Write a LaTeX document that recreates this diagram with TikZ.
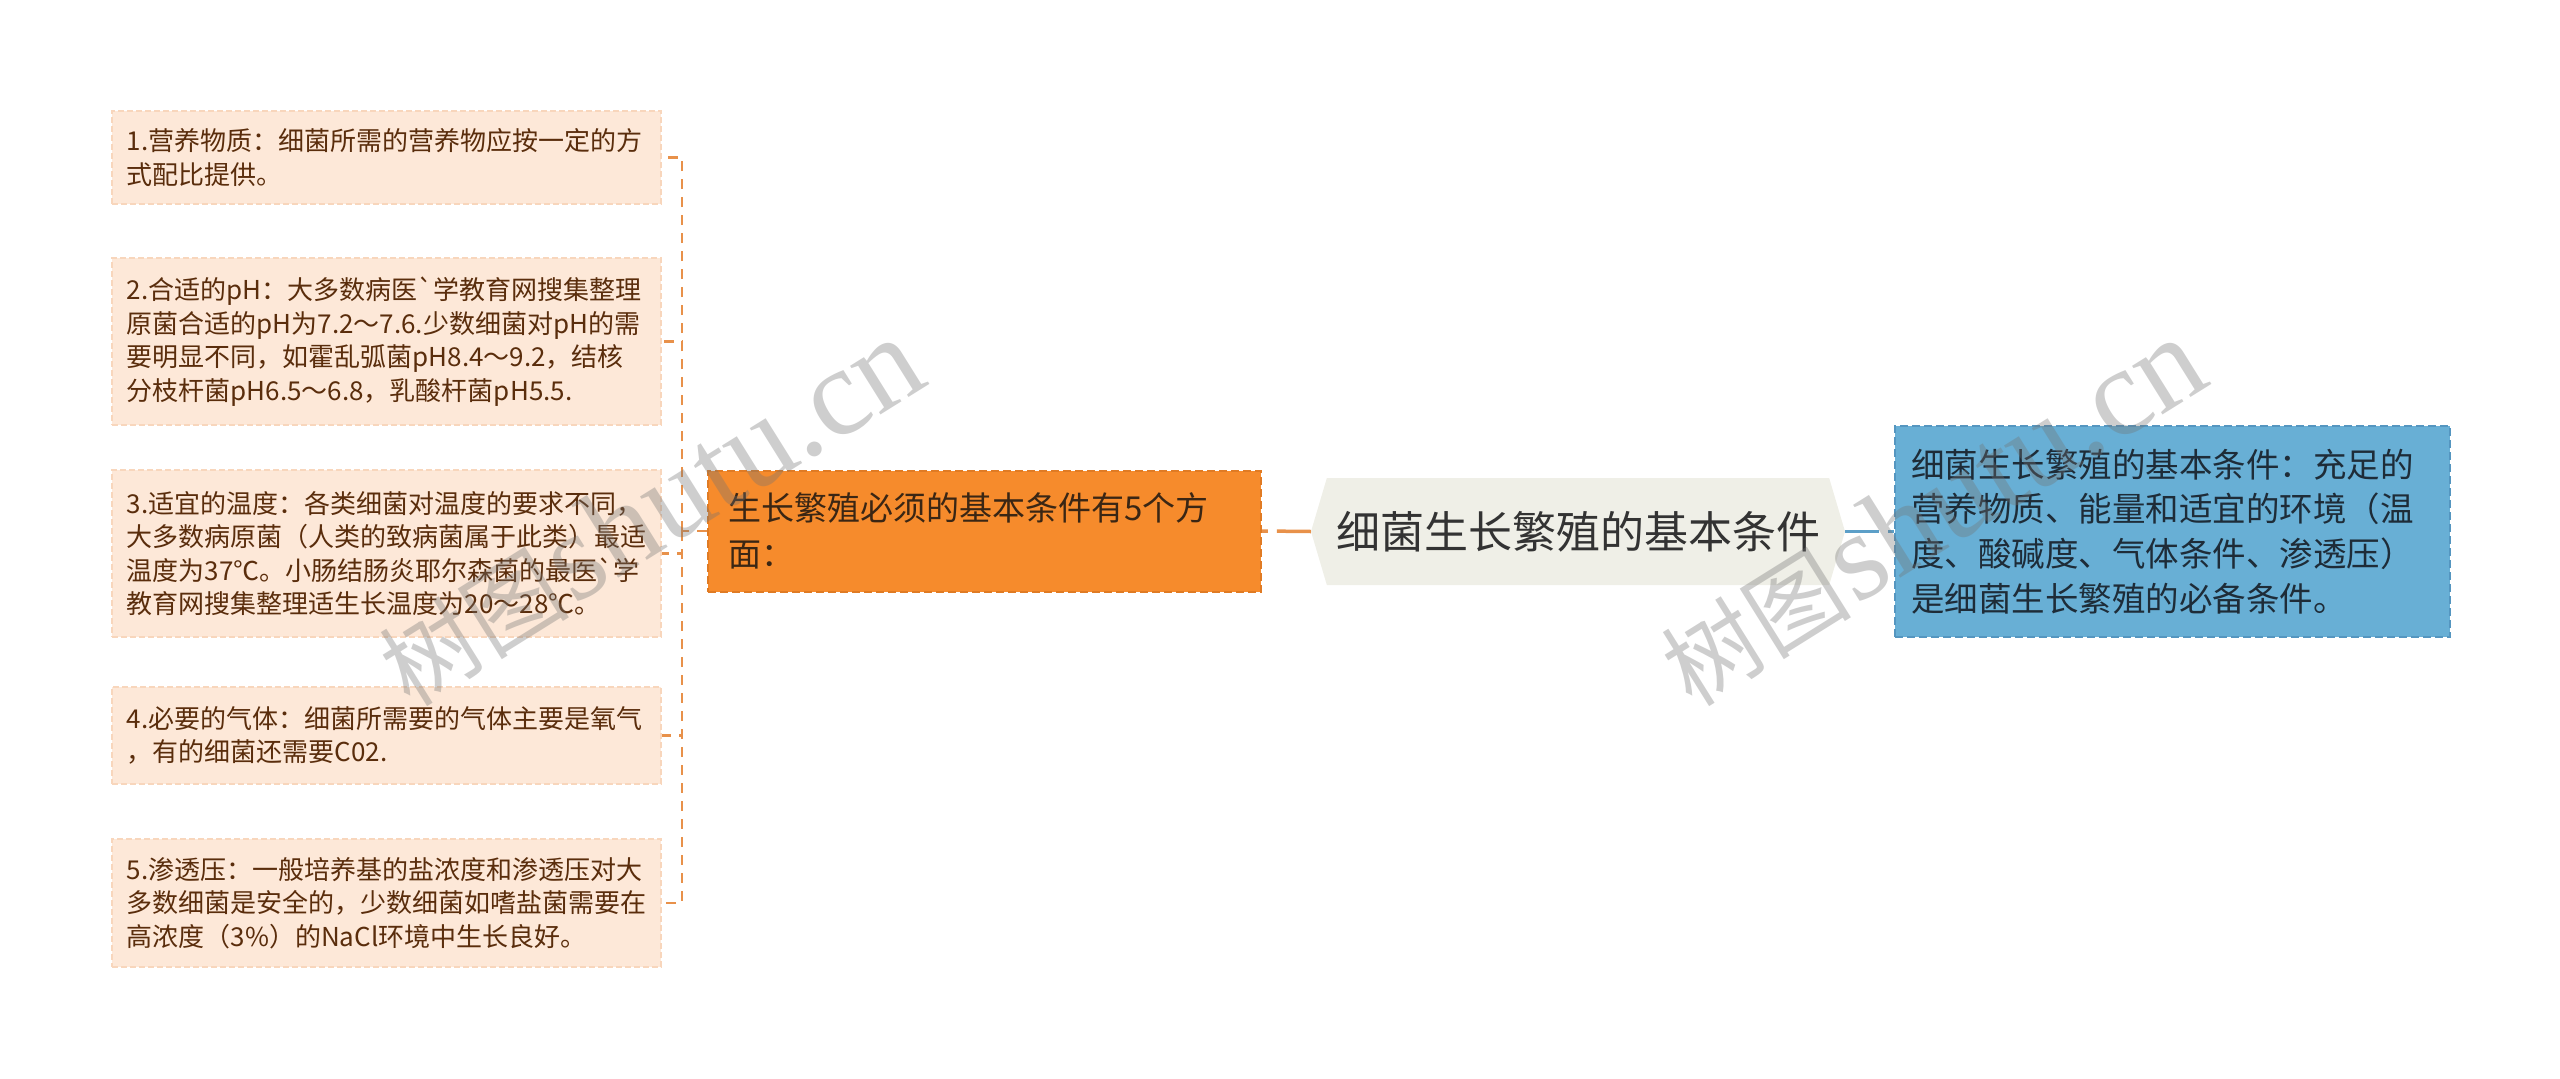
\documentclass[tikz,border=0pt]{standalone}
\usepackage{fontspec}
\newfontfamily\cjk{Noto Sans CJK SC}
\newfontfamily\wmserif{Liberation Serif}
\usetikzlibrary{shapes.symbols}
\definecolor{leaffill}{HTML}{FDE8D8}
\definecolor{leafline}{HTML}{F8D6BC}
\definecolor{leaftext}{HTML}{5A2D0C}
\definecolor{linkorange}{HTML}{E8914A}
\definecolor{midfill}{HTML}{F68B2C}
\definecolor{midline}{HTML}{E07B24}
\definecolor{midtext}{HTML}{3A2614}
\definecolor{rootfill}{HTML}{EFEFE7}
\definecolor{roottext}{HTML}{333333}
\definecolor{bluefill}{HTML}{68AFD5}
\definecolor{blueline}{HTML}{5596C0}
\definecolor{bluetext}{HTML}{1E2C38}
\definecolor{linkblue}{HTML}{5C9FC8}
\tikzset{
  leaf/.style={rectangle, fill=leaffill, draw=leafline, dash pattern=on 6pt off 3pt, line width=1.5pt,
    text=leaftext, font=\cjk\fontsize{26}{33.5}\selectfont,
    text width=519pt, inner xsep=15pt, inner ysep=0pt, align=left, anchor=west},
  midbox/.style={rectangle, fill=midfill, draw=midline, dash pattern=on 8pt off 4pt, line width=2pt,
    text=midtext, font=\cjk\fontsize{33}{46}\selectfont,
    text width=513pt, inner xsep=20pt, inner ysep=0pt, align=left, anchor=west,
    minimum height=121pt},
  rootbox/.style={signal, signal to=west and east, signal pointer angle=147,
    fill=rootfill, text=roottext, font=\cjk\fontsize{44}{50}\selectfont,
    minimum width=534pt, minimum height=107pt, inner sep=0pt},
  bluebox/.style={rectangle, fill=bluefill, draw=blueline, dash pattern=on 8pt off 4pt, line width=2pt,
    text=bluetext, font=\cjk\fontsize{33.5}{44.7}\selectfont,
    text width=523pt, inner xsep=16pt, inner ysep=0pt, align=left, anchor=west,
    minimum height=211pt},
  leaflink/.style={draw=linkorange, line width=2.5pt, dash pattern=on 10pt off 8pt},
  midlink/.style={draw=linkorange, line width=3.5pt, dash pattern=on 34pt off 9pt},
  bluelink/.style={draw=linkblue, line width=3.5pt, dash pattern=on 34pt off 9pt},
  wm/.style={text=black!55, text opacity=0.35, inner sep=0pt}
}
\begin{document}
\begin{tikzpicture}[x=1pt,y=-1pt]
  \useasboundingbox (0,0) rectangle (2560,1079);
  % leaves
  \node[leaf, minimum height=93pt] (n1) at (111,157.5)
    {1.营养物质：细菌所需的营养物应按一定的方\\式配比提供。};
  \node[leaf, minimum height=167pt] (n2) at (111,341.5)
    {2.合适的pH：大多数病医`学教育网搜集整理\\原菌合适的pH为7.2～7.6.少数细菌对pH的需\\要明显不同，如霍乱弧菌pH8.4～9.2，结核\\分枝杆菌pH6.5～6.8，乳酸杆菌pH5.5.};
  \node[leaf, minimum height=167pt] (n3) at (111,553.5)
    {3.适宜的温度：各类细菌对温度的要求不同，\\大多数病原菌（人类的致病菌属于此类）最适\\温度为37℃。小肠结肠炎耶尔森菌的最医`学\\教育网搜集整理适生长温度为20～28℃。};
  \node[leaf, minimum height=97pt] (n4) at (111,735.5)
    {4.必要的气体：细菌所需要的气体主要是氧气\\，有的细菌还需要C02.};
  \node[leaf, minimum height=128pt] (n5) at (111,903)
    {5.渗透压：一般培养基的盐浓度和渗透压对大\\多数细菌是安全的，少数细菌如嗜盐菌需要在\\高浓度（3\%）的NaCl环境中生长良好。};
  % branch and root
  \node[midbox] (mid) at (707,531) {生长繁殖必须的基本条件有5个方\\面：};
  \node[rootbox] (root) at (1578,531.5) {细菌生长繁殖的基本条件};
  \node[bluebox] (note) at (1894,531.5)
    {细菌生长繁殖的基本条件：充足的\\营养物质、能量和适宜的环境（温\\度、酸碱度、气体条件、渗透压）\\是细菌生长繁殖的必备条件。};
  % links
  \coordinate (trunk) at (682,531);
  \draw[leaflink] (mid.west) -- (trunk);
  \foreach \n in {n1,n2,n3,n4,n5}
    \draw[leaflink] (trunk) |- (\n.east);
  \draw[midlink] (root.west) -- (mid.east);
  \draw[bluelink] (root.east) -- (note.west);
  % watermarks
  \node[wm, rotate=32] (wm1) at (650,512)
    {{\cjk\fontsize{95}{95}\selectfont 树图} {\wmserif\fontsize{125}{125}\selectfont shutu.cn}};
  \node[wm, rotate=32] (wm2) at (1932,512)
    {{\cjk\fontsize{95}{95}\selectfont 树图} {\wmserif\fontsize{125}{125}\selectfont shutu.cn}};
\end{tikzpicture}
\end{document}
